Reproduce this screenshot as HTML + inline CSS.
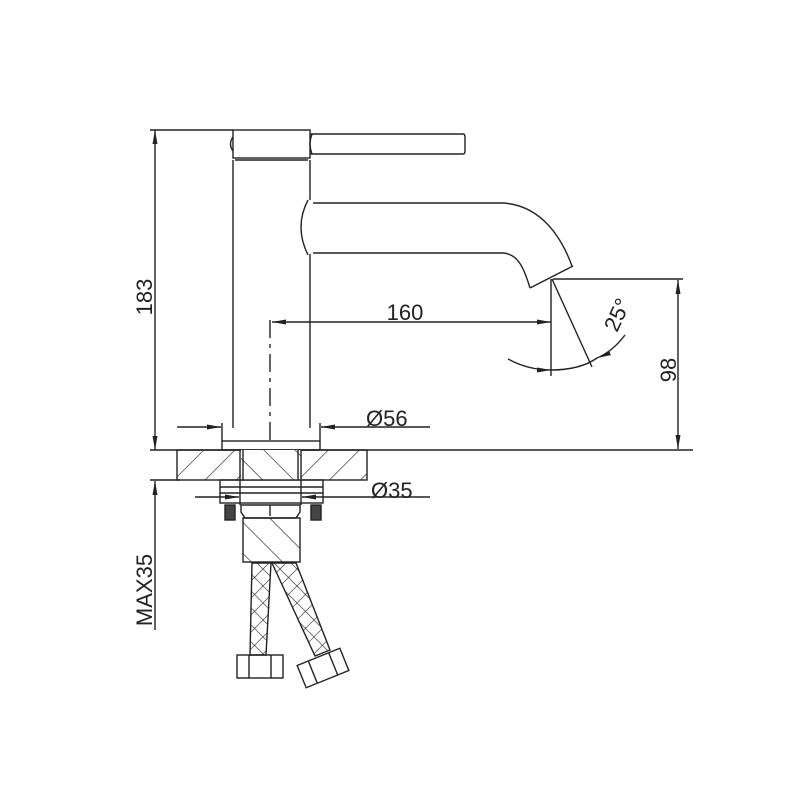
<!DOCTYPE html>
<html><head><meta charset="utf-8"><style>body{margin:0;background:#fff}svg{display:block}</style></head>
<body>
<svg width="800" height="800" viewBox="0 0 800 800" xmlns="http://www.w3.org/2000/svg" font-family="Liberation Sans, sans-serif">
<defs>
<pattern id="h1" patternUnits="userSpaceOnUse" width="22" height="22" patternTransform="rotate(-45)"><line x1="0" y1="0" x2="0" y2="22" stroke="#222" stroke-width="1.3"/></pattern>
<pattern id="h2" patternUnits="userSpaceOnUse" width="22" height="22" patternTransform="rotate(45)"><line x1="0" y1="0" x2="0" y2="22" stroke="#222" stroke-width="1.3"/></pattern>
<pattern id="x" patternUnits="userSpaceOnUse" width="12" height="12" patternTransform="rotate(45)"><path d="M0 0V12M0 0H12" stroke="#222" stroke-width="1.2" fill="none"/></pattern>
<marker id="a" markerWidth="14" markerHeight="8" refX="14" refY="4" orient="auto" markerUnits="userSpaceOnUse"><path d="M0 1.5L14 4L0 6.5z" fill="#222"/></marker>
</defs>
<g stroke="#222" stroke-width="1.4" fill="none">
<line x1="150" y1="130" x2="233" y2="130"/>
<line x1="155" y1="300" x2="155" y2="130" marker-end="url(#a)"/>
<line x1="155" y1="300" x2="155" y2="450" marker-end="url(#a)"/>
<rect x="233" y="130" width="77" height="28"/>
<path d="M233 137 q-5 7 0 14"/>
<path d="M310 134 H463 q2 0 2 3 V151 q0 3 -2 3 H310"/>
<path d="M312 134 q-4 10 0 20"/>
<line x1="235" y1="160" x2="308" y2="160"/>
<line x1="233" y1="160" x2="233" y2="428"/>
<line x1="310" y1="160" x2="310" y2="200"/>
<line x1="310" y1="254" x2="310" y2="428"/>
<path d="M308 200 q-14 27 0 55"/>
<path d="M313 203 H503 C535 205 558 228 572 266"/>
<path d="M313 253 H503 C518 254 524 268 530 288"/>
<line x1="530" y1="288" x2="573" y2="266"/>
<line x1="270" y1="320" x2="270" y2="446" stroke-dasharray="18,6,4,6"/>
<line x1="400" y1="322" x2="272" y2="322" marker-end="url(#a)"/>
<line x1="400" y1="322" x2="551" y2="322" marker-end="url(#a)"/>
<line x1="551" y1="279" x2="551" y2="376"/>
<line x1="552" y1="279" x2="592" y2="367"/>
<line x1="553" y1="279" x2="683" y2="279"/>
<path d="M508 359 Q528 370 551 370" marker-end="url(#a)"/>
<path d="M625 335 Q612 352 597 358" marker-end="url(#a)"/>
<path d="M551 370 Q580 370 597 358"/>
<line x1="678" y1="370" x2="678" y2="280" marker-end="url(#a)"/>
<line x1="678" y1="370" x2="678" y2="449" marker-end="url(#a)"/>
<line x1="150" y1="450" x2="693" y2="450"/>
<rect x="222" y="441" width="98" height="9"/>
<line x1="222" y1="423" x2="222" y2="441"/>
<line x1="320" y1="423" x2="320" y2="441"/>
<line x1="177" y1="427" x2="221" y2="427" marker-end="url(#a)"/>
<line x1="430" y1="427" x2="321" y2="427" marker-end="url(#a)"/>
<rect x="177" y="450" width="190" height="30" fill="url(#h2)"/>
<rect x="241" y="450" width="60" height="30" fill="#fff" stroke="none"/>
<rect x="241" y="450" width="60" height="30" fill="url(#h1)" stroke="none"/>
<line x1="240" y1="450" x2="240" y2="505"/>
<line x1="243" y1="450" x2="243" y2="480"/>
<line x1="301" y1="450" x2="301" y2="505"/>
<line x1="298" y1="450" x2="298" y2="480"/>
<line x1="150" y1="480" x2="180" y2="480"/>
<line x1="155" y1="630" x2="155" y2="481" marker-end="url(#a)"/>
<rect x="220" y="480" width="103" height="23"/>
<line x1="220" y1="487" x2="323" y2="487"/>
<line x1="220" y1="493" x2="323" y2="493"/>
<line x1="195" y1="497" x2="239" y2="497" marker-end="url(#a)"/>
<line x1="430" y1="497" x2="302" y2="497" marker-end="url(#a)"/>
<rect x="225" y="505" width="10" height="15" fill="#444"/>
<rect x="311" y="505" width="10" height="15" fill="#444"/>
<path d="M241 505 H300 V512 l-4 6 H245 l-4 -6z"/>
<line x1="270" y1="505" x2="270" y2="516"/>
<rect x="243" y="518" width="57" height="44" fill="url(#h1)"/>
<path d="M252 563 L271 563 L266 655 L250 655 Z" fill="url(#x)"/>
<path d="M272 563 L296 563 L330 650 L315 656 Z" fill="url(#x)"/>
<rect x="237" y="655" width="46" height="23"/>
<line x1="249" y1="655" x2="249" y2="678"/><line x1="271" y1="655" x2="271" y2="678"/>
<g transform="translate(323 668) rotate(-22)"><rect x="-23" y="-12" width="46" height="24" fill="#fff"/><line x1="-11" y1="-12" x2="-11" y2="12"/><line x1="11" y1="-12" x2="11" y2="12"/></g>
</g>
<g fill="#222" font-size="22">
<text x="405" y="320" text-anchor="middle">160</text>
<text x="366" y="426">Ø56</text>
<text x="371" y="498">Ø35</text>
<text transform="translate(152 297) rotate(-90)" text-anchor="middle">183</text>
<text transform="translate(676 370) rotate(-90)" text-anchor="middle">98</text>
<text transform="translate(152 590) rotate(-90)" text-anchor="middle">MAX35</text>
<text transform="translate(624 318) rotate(-65)" text-anchor="middle">25°</text>
</g>
</svg>
</body></html>
